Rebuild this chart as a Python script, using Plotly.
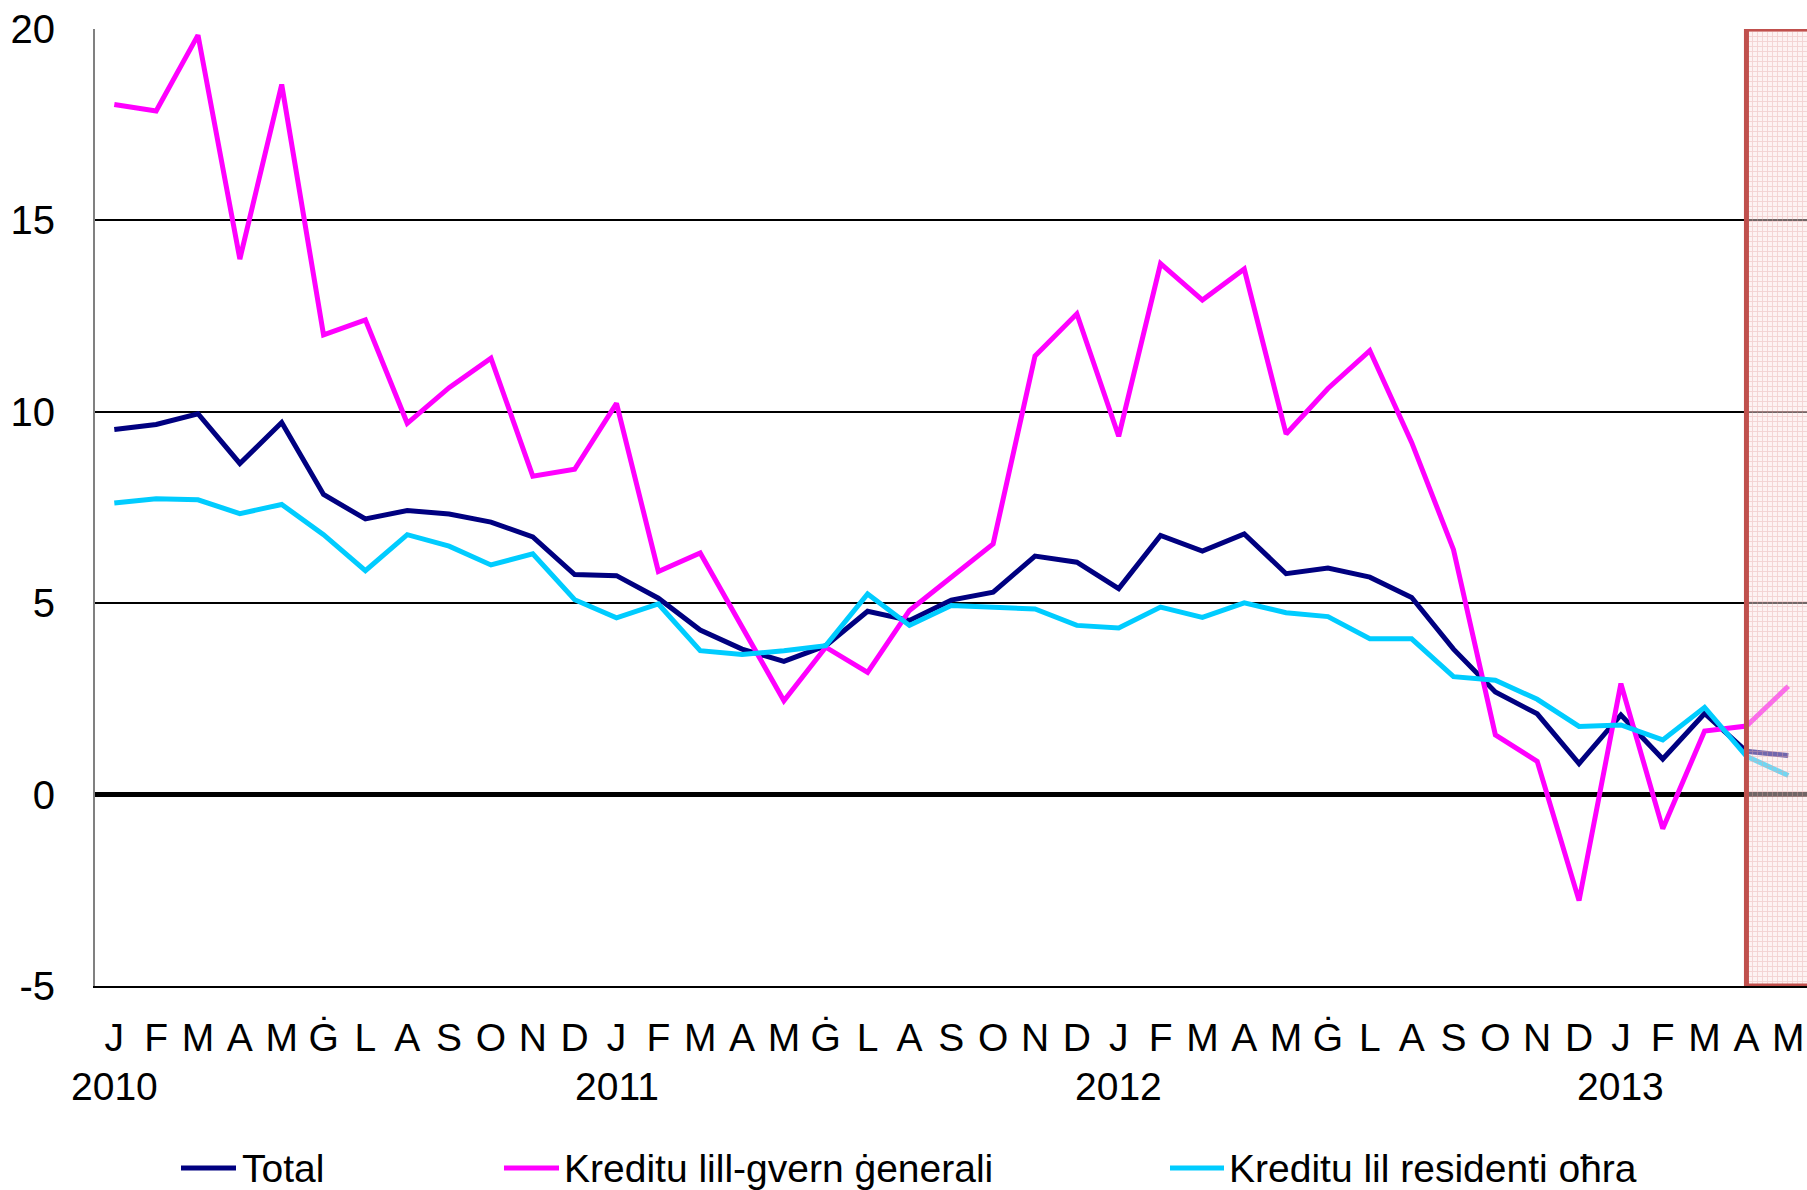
import plotly.graph_objects as go

months = ["J", "F", "M", "A", "M", "Ġ", "L", "A", "S", "O", "N", "D"] * 3 + ["J", "F", "M", "A", "M"]
years = ["2010", "2011", "2012", "2013"]
year_pos = [0, 12, 24, 36]

total = [9.54, 9.67, 9.95, 8.65, 9.72, 7.84, 7.20, 7.42, 7.33, 7.12, 6.73, 5.75,
         5.72, 5.13, 4.30, 3.80, 3.48, 3.89, 4.79, 4.55, 5.08, 5.29, 6.23, 6.07,
         5.38, 6.77, 6.36, 6.81, 5.77, 5.92, 5.68, 5.15, 3.80, 2.68, 2.11, 0.81,
         2.08, 0.93, 2.12, 1.13, 1.02]
government = [18.03, 17.86, 19.84, 13.99, 18.55, 12.01, 12.40, 9.70, 10.63, 11.40, 8.32, 8.50,
              10.22, 5.83, 6.31, 4.40, 2.45, 3.85, 3.19, 4.81, 5.68, 6.55, 11.46, 12.56,
              9.36, 13.87, 12.92, 13.73, 9.42, 10.61, 11.60, 9.20, 6.40, 1.56, 0.87, -2.77,
              2.90, -0.89, 1.66, 1.79, 2.83]
other_residents = [7.62, 7.73, 7.70, 7.34, 7.58, 6.79, 5.85, 6.79, 6.49, 6.00, 6.29, 5.09,
                   4.62, 4.98, 3.76, 3.66, 3.76, 3.89, 5.24, 4.42, 4.94, 4.91, 4.85, 4.42,
                   4.35, 4.90, 4.63, 5.01, 4.75, 4.65, 4.07, 4.07, 3.08, 2.99, 2.49, 1.78,
                   1.82, 1.43, 2.28, 1.00, 0.50]

series_names = ["Total", "Kreditu lill-gvern ġenerali", "Kreditu lil residenti oħra"]
series_values = [total, government, other_residents]
series_colors = ["#000080", "#FF00FF", "#00CCFF"]

forecast_start = 39  # April 2013

W, H = 1807, 1190
ML, MT, MB = 95, 29, 204
plot_w = W - ML
plot_h = H - MT - MB
step = 41.85
x0 = -(114.3 - ML) / step
x_range = [x0, x0 + plot_w / step]
y_range = [-5, 20]

FONT = "Arial, Liberation Sans, sans-serif"

fig = go.Figure()
idx = list(range(len(months)))
for name, vals, col in zip(series_names, series_values, series_colors):
    fig.add_trace(go.Scatter(x=idx, y=vals, mode="lines", name=name,
                             line=dict(color=col, width=5), showlegend=False,
                             hoverinfo="skip"))

# shaded forecast area (patterned overlay above the lines)
bx1 = x_range[1] + 0.5
fig.add_trace(go.Scatter(
    x=[forecast_start, bx1, bx1, forecast_start, forecast_start],
    y=[y_range[0], y_range[0], y_range[1], y_range[1], y_range[0]],
    mode="none", fill="toself", showlegend=False, hoverinfo="skip",
    fillcolor="rgba(255,235,235,0.35)",
    fillpattern=dict(shape="+", fgcolor="rgba(228,160,160,0.75)",
                     bgcolor="rgba(252,228,228,0.45)", size=5, solidity=0.35)))

fig.add_shape(type="rect", xref="x", yref="y", x0=forecast_start, x1=bx1,
              y0=y_range[0], y1=y_range[1], layer="above",
              fillcolor="rgba(0,0,0,0)",
              line=dict(color="#C0504D", width=5))

# legend (custom)
leg_y_px = 1168
leg_y = (H - MB - leg_y_px) / plot_h
leg_items = [(181, 236, 240), (504, 559, 562), (1170, 1224, 1227)]
for (lx0, lx1, tx), name, col in zip(leg_items, series_names, series_colors):
    fig.add_shape(type="line", xref="paper", yref="paper",
                  x0=(lx0 - ML) / plot_w, x1=(lx1 - ML) / plot_w, y0=leg_y, y1=leg_y,
                  line=dict(color=col, width=5))
    fig.add_annotation(xref="paper", yref="paper", x=(tx - ML) / plot_w, y=leg_y,
                       text=name, showarrow=False, xanchor="left", yanchor="middle",
                       font=dict(size=39, color="black", family=FONT))

# year labels
yr_y = (H - MB - 1086) / plot_h
for p, yname in zip(year_pos, years):
    fig.add_annotation(xref="x", yref="paper", x=p, y=yr_y, text=yname, showarrow=False,
                       xanchor="center", yanchor="middle",
                       font=dict(size=39, color="black", family=FONT))

fig.update_layout(
    width=W, height=H,
    margin=dict(l=ML, r=0, t=MT, b=MB),
    paper_bgcolor="white", plot_bgcolor="white",
    font=dict(family=FONT, color="black", size=39),
    xaxis=dict(range=x_range, tickmode="array", tickvals=idx, ticktext=months,
               showgrid=False, zeroline=False, showline=True, linecolor="black",
               linewidth=1.5, ticks="", tickangle=0, ticklabelstandoff=16,
               tickfont=dict(size=39, family=FONT, color="black")),
    yaxis=dict(range=y_range, tickvals=[-5, 0, 5, 10, 15, 20],
               ticktext=["-5", "0", "5", "10", "15", "20"],
               showgrid=True, gridcolor="black", gridwidth=1.5,
               zeroline=True, zerolinecolor="black", zerolinewidth=5,
               showline=True, linecolor="#808080", linewidth=2,
               ticks="", ticklabelstandoff=30,
               tickfont=dict(size=40, family=FONT, color="black")),
)

fig.write_html("out.html", config={"displayModeBar": False},
               post_script="document.body.style.margin='0';document.body.style.overflow='hidden';")
